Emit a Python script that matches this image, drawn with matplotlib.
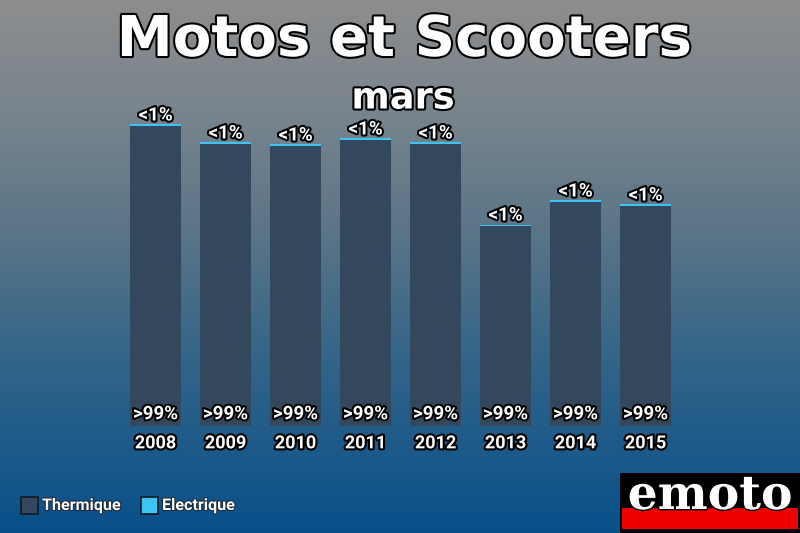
import numpy as np
import matplotlib
matplotlib.use('Agg')
import matplotlib.pyplot as plt
import matplotlib.patheffects as pe
from matplotlib.colors import LinearSegmentedColormap
from matplotlib.patches import Rectangle

years = ['2008', '2009', '2010', '2011', '2012', '2013', '2014', '2015']
thermique = [30000, 28200, 28000, 28600, 28200, 20000, 22400, 22000]
electrique = [150, 150, 150, 150, 150, 150, 150, 150]
top_labels = ['<1%'] * 8
bottom_labels = ['>99%'] * 8

col_therm = '#34485d'
col_elec = '#3cc4f2'
outline = [pe.withStroke(linewidth=3, foreground='black')]

W, H = 800, 533
fig = plt.figure(figsize=(8, 5.33), dpi=100)

# fond en degrade
bg = fig.add_axes([0, 0, 1, 1])
grad = LinearSegmentedColormap.from_list('bg', [
    (0.0, '#8d8d8d'), (0.2, '#7a858d'), (0.45, '#587487'),
    (0.7, '#2f6389'), (1.0, '#08508a')])
bg.imshow(np.linspace(0, 1, 256).reshape(-1, 1), aspect='auto', cmap=grad,
          extent=[0, 1, 0, 1])
bg.set_axis_off()

# graphique
ax = fig.add_axes([120.5 / W, 107 / H, 560 / W, 320 / H])
ax.patch.set_alpha(0)
x = np.arange(len(years))
ax.bar(x, thermique, width=0.73, color=col_therm)
ax.bar(x, electrique, width=0.73, bottom=thermique, color=col_elec)
ax.set_xlim(-0.5, 7.5)
ax.set_ylim(0, 32000)
ax.set_axis_off()

for i in range(len(years)):
    tot = thermique[i] + electrique[i]
    ax.annotate(top_labels[i], (x[i], tot), xytext=(0, 0), textcoords='offset points',
                ha='center', va='bottom', color='white', fontsize=13.5,
                fontweight='bold', family='Roboto', path_effects=outline)
    ax.annotate(bottom_labels[i], (x[i], 0), xytext=(0, 2), textcoords='offset points',
                ha='center', va='bottom', color='white', fontsize=13.5,
                fontweight='bold', family='Roboto', path_effects=outline)
    ax.annotate(years[i], (x[i], 0), xytext=(0, -6), textcoords='offset points',
                ha='center', va='top', color='white', fontsize=13,
                fontweight='bold', family='Roboto', path_effects=outline)

# titres
fig.text(404 / W, 1 - 41 / H, 'Motos et Scooters', ha='center', va='center',
         fontsize=40.5, fontweight='bold', family='DejaVu Sans', color='white',
         path_effects=[pe.withStroke(linewidth=3, foreground='black')])
fig.text(403 / W, 1 - 98 / H, 'mars', ha='center', va='center',
         fontsize=26.5, fontweight='bold', family='DejaVu Sans', color='white',
         path_effects=outline)

# legende
for lx, c, lab in [(21, col_therm, 'Thermique'), (141, col_elec, 'Electrique')]:
    fig.patches.append(Rectangle((lx / W, 1 - 514 / H), 17 / W, 17 / H,
                                 facecolor=c, edgecolor='#111a26', linewidth=1.2,
                                 transform=fig.transFigure))
    fig.text((lx + 21) / W, 1 - 505.5 / H, lab, ha='left', va='center',
             fontsize=11.6, fontweight='bold', family='Roboto', color='white',
             path_effects=[pe.withStroke(linewidth=1.5, foreground='#1a2a3a')])

# logo
fig.patches.append(Rectangle((620 / W, 0), 180 / W, 60 / H, facecolor='black',
                             transform=fig.transFigure))
fig.patches.append(Rectangle((622 / W, 4 / H), 176 / W, 21 / H, facecolor='#ee0000',
                             transform=fig.transFigure))
fig.text(710 / W, 1 - 496 / H, 'emoto', ha='center', va='center', fontsize=34,
         fontweight='bold', family='DejaVu Serif', color='white',
         path_effects=[pe.withStroke(linewidth=2, foreground='black')])

fig.savefig('out.png', dpi=100)
